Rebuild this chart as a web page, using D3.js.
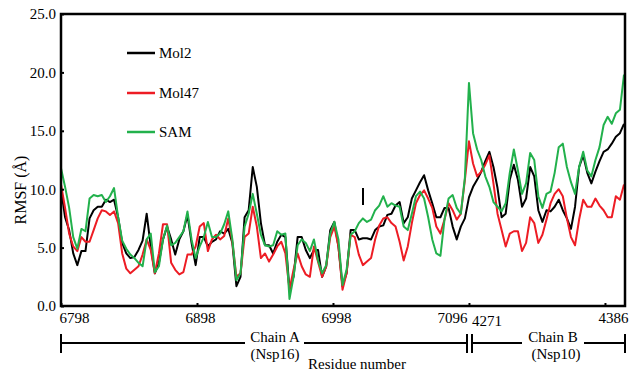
<!DOCTYPE html>
<html><head><meta charset="utf-8">
<script src="https://cdn.jsdelivr.net/npm/d3@7"></script>
<style>body{margin:0;background:#fff}svg{display:block}text{font-family:"Liberation Serif","Times New Roman",serif;fill:#000}</style>
</head><body>
<svg id="c" width="632" height="372"></svg>
<script>
// sampled residue positions (index along concatenated chain A + chain B)
const residueIndex = d3.range(0, 415, 3);
const mol2 = [10.0,7.6,6.5,4.5,3.5,4.7,4.7,7.5,8.2,8.5,8.5,9.1,8.9,9.1,7.6,5.4,4.5,4.1,4.2,4.8,
5.6,7.9,5.1,2.8,3.7,5.7,6.8,5.7,4.4,5.7,6.4,7.8,5.4,3.5,5.9,5.9,5.1,5.5,5.7,6.4,
6.2,6.6,5.4,1.7,2.5,7.6,8.2,11.9,10.2,7.1,5.2,5.2,4.5,5.5,6.1,5.9,1.4,2.5,5.9,5.9,
4.8,4.1,4.8,4.8,2.5,3.4,6.5,7.2,5.1,1.7,2.8,6.5,6.5,5.7,5.8,5.8,5.7,6.5,6.8,6.9,
7.8,7.9,8.6,8.9,7.1,7.6,9.2,9.9,10.6,11.2,9.9,8.8,7.6,7.6,8.4,8.4,6.8,5.7,6.8,7.5,
9.3,10.2,10.8,11.5,12.4,13.2,11.9,10.1,7.6,7.9,10.8,12.1,10.8,8.5,9.2,11.9,11.1,8.2,7.2,8.2,
8.1,8.5,9.1,8.2,7.5,6.6,8.5,11.9,12.9,11.4,10.5,11.5,12.4,13.2,13.4,13.9,14.5,14.8,15.6];
const mol47 = [10.4,8.4,6.2,5.1,4.7,5.9,5.5,5.5,6.5,7.5,8.2,8.1,7.8,8.1,7.1,4.5,3.2,2.8,3.1,3.4,
4.4,5.7,4.8,2.8,4.5,7.0,7.0,3.7,3.1,2.7,2.9,4.4,4.4,5.1,6.8,7.1,4.7,5.7,6.1,5.7,
6.0,7.5,5.5,2.5,2.8,5.9,6.2,8.5,6.8,4.1,4.5,3.8,4.4,5.1,5.5,4.5,1.4,3.1,4.5,3.4,
2.7,2.5,5.1,3.8,2.5,3.4,5.9,6.8,5.1,1.4,2.8,6.1,5.9,4.4,3.5,3.8,4.1,5.7,6.9,7.5,
7.6,7.1,6.8,5.5,3.9,5.1,7.1,8.8,9.5,9.9,9.2,8.4,6.8,6.2,7.4,8.8,8.2,7.4,7.9,10.8,
14.1,12.2,11.1,11.5,12.1,12.9,10.5,7.9,6.5,5.1,6.2,6.4,6.4,4.7,5.4,7.6,7.1,5.4,6.1,7.4,
8.8,9.6,10.0,9.4,7.5,5.9,5.2,7.4,9.1,8.5,8.5,9.2,8.6,8.2,7.6,7.6,9.4,9.1,10.4];
const sam = [11.8,10.2,8.4,5.9,4.9,6.6,6.4,9.2,9.5,9.4,9.5,8.9,9.4,10.1,7.6,5.6,4.9,4.4,4.1,3.7,
3.4,5.7,6.2,2.9,3.4,5.7,6.9,5.2,5.4,5.9,6.4,8.1,5.7,4.1,5.1,5.9,7.2,5.9,5.9,6.2,
7.0,8.1,5.7,2.2,2.8,6.8,7.9,9.6,7.9,6.1,5.2,5.1,5.2,6.4,6.1,6.2,0.6,2.5,5.2,5.7,
5.4,4.7,5.7,3.9,2.8,3.5,6.2,7.2,5.7,1.8,3.1,6.1,6.4,7.1,7.5,7.2,7.4,8.2,8.6,9.4,
8.5,8.8,8.6,8.5,6.8,6.5,7.9,9.4,9.8,9.2,7.6,5.7,4.5,4.3,7.4,9.2,9.5,8.4,7.9,11.0,
19.1,14.8,13.4,12.5,11.1,10.2,8.9,8.5,8.1,8.8,11.4,13.4,11.6,9.6,10.5,13.1,12.5,9.4,8.4,9.6,
9.8,11.4,13.6,13.9,11.9,10.6,9.6,11.9,13.2,11.6,11.1,12.5,13.6,15.5,16.2,15.6,16.5,16.8,19.8];
const seriesNames = ["Mol2","Mol47","SAM"];
const seriesColors = ["#000000","#ed1c24","#22b14c"];
const xTickIndex = [0,100,200,300,400];
const xTickLabels = ["6798","6898","6998","7096","4386"];
const chainBStartLabel = "4271";
const yTicks = [0,5,10,15,20,25];

const svg = d3.select("#c");
const L=61,R=625,T=14,B=306;
const x = d3.scaleLinear().domain([0,414]).range([L,R-1]);
const y = d3.scaleLinear().domain([0,25]).range([B,T]);

const line = d3.line().x((d,i)=>x(residueIndex[i])).y(d=>y(d));
[mol2,mol47,sam].forEach((s,i)=>{
  svg.append("path").datum(s).attr("d",line).attr("fill","none")
    .attr("stroke",seriesColors[i]).attr("stroke-width",2).attr("stroke-linejoin","round");
});

// frame
svg.append("rect").attr("x",L).attr("y",T).attr("width",R-L).attr("height",B-T)
  .attr("fill","none").attr("stroke","#000").attr("stroke-width",2.5);

// y axis
const ya = svg.append("g").attr("transform",`translate(${L},0)`)
  .call(d3.axisLeft(y).tickValues(yTicks).tickFormat(d3.format(".1f")).tickSize(-3).tickPadding(5));
ya.select(".domain").remove();
ya.selectAll("text").attr("font-size",15).attr("font-family","Liberation Serif");
ya.selectAll("line").attr("stroke-width",2);

// x axis
const xa = svg.append("g").attr("transform",`translate(0,${B})`)
  .call(d3.axisBottom(x).tickValues(xTickIndex).tickFormat((d,i)=>xTickLabels[i]).tickSize(-3).tickPadding(6));
xa.select(".domain").remove();
xa.selectAll("line").attr("stroke-width",2);
xa.selectAll("text").attr("font-size",15).attr("font-family","Liberation Serif")
  .attr("text-anchor",(d,i)=>i===0?"start":(i===3?"end":"middle"))
  .attr("dx",(d,i)=>i===0?-2:(i===3?-2:(i===4?8:3)));
svg.append("text").attr("x",x(300)+3).attr("y",B+20).attr("font-size",15).text(chainBStartLabel);

// marker
svg.append("line").attr("x1",363).attr("x2",363).attr("y1",188).attr("y2",205).attr("stroke","#000").attr("stroke-width",2);

// legend
seriesNames.forEach((n,i)=>{
  const ly=[53,93,132][i];
  svg.append("line").attr("x1",127).attr("x2",155).attr("y1",ly).attr("y2",ly)
    .attr("stroke",seriesColors[i]).attr("stroke-width",2.5);
  svg.append("text").attr("x",159).attr("y",ly+5).attr("font-size",15).text(n);
});

// y title
svg.append("text").attr("transform","translate(26,190) rotate(-90)").attr("text-anchor","middle")
  .attr("font-size",16).text("RMSF (Å)");

// chain brackets
const by=343;
const seg=(x1,x2)=>svg.append("line").attr("x1",x1).attr("x2",x2).attr("y1",by).attr("y2",by).attr("stroke","#000").attr("stroke-width",2);
const vt=(xx)=>svg.append("line").attr("x1",xx).attr("x2",xx).attr("y1",334).attr("y2",353).attr("stroke","#000").attr("stroke-width",2);
seg(61,245); seg(304,467); seg(472,522); seg(584,625);
vt(61); vt(467); vt(472); vt(625);
svg.append("text").attr("x",275).attr("y",342).attr("text-anchor","middle").attr("font-size",15).text("Chain A");
svg.append("text").attr("x",275).attr("y",359).attr("text-anchor","middle").attr("font-size",15).text("(Nsp16)");
svg.append("text").attr("x",553).attr("y",342).attr("text-anchor","middle").attr("font-size",15).text("Chain B");
svg.append("text").attr("x",556).attr("y",359).attr("text-anchor","middle").attr("font-size",15).text("(Nsp10)");
svg.append("text").attr("x",357).attr("y",369).attr("text-anchor","middle").attr("font-size",15).text("Residue number");
</script>
</body></html>
